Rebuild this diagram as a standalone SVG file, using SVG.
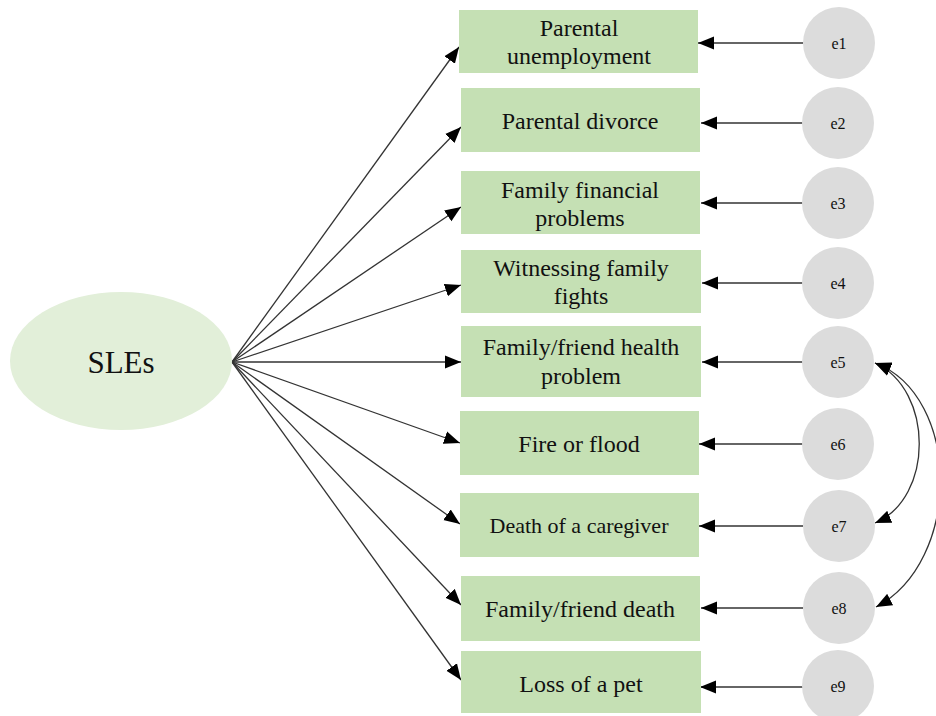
<svg xmlns="http://www.w3.org/2000/svg" width="936" height="716" viewBox="0 0 936 716">
<defs>
<marker id="ah" markerUnits="userSpaceOnUse" markerWidth="17" markerHeight="14" refX="16" refY="6.5" orient="auto-start-reverse" viewBox="0 0 17 13">
<path d="M0,0 L16,6.5 L0,13 Z" fill="#000"/>
</marker>
</defs>
<style>
.box{fill:#c5e0b4}
.err{fill:#dcdcdc}
.lat{fill:#e2efd9}
.t{font-family:"Liberation Serif","Times New Roman",serif;font-size:24px;fill:#111;text-anchor:middle}
.s{font-family:"Liberation Serif","Times New Roman",serif;font-size:16px;fill:#111;text-anchor:middle}
.c{fill:none;stroke:#333;stroke-width:1.3;marker-end:url(#ah)}
.d{fill:none;stroke:#333;stroke-width:1.3;marker-end:url(#ah);marker-start:url(#ah)}
</style>
<rect width="936" height="716" fill="#fff"/>
<g id="connectors">
<line class="c" x1="232" y1="362" x2="459" y2="47"/>
<line class="c" x1="232" y1="362" x2="461" y2="127"/>
<line class="c" x1="232" y1="362" x2="461" y2="207"/>
<line class="c" x1="232" y1="362" x2="461" y2="285"/>
<line class="c" x1="232" y1="362" x2="461" y2="362"/>
<line class="c" x1="232" y1="362" x2="460" y2="443"/>
<line class="c" x1="232" y1="362" x2="460" y2="524"/>
<line class="c" x1="232" y1="362" x2="461" y2="605"/>
<line class="c" x1="232" y1="362" x2="461" y2="680"/>
<line class="c" x1="803" y1="43" x2="698" y2="43"/>
<line class="c" x1="803" y1="123" x2="701" y2="123"/>
<line class="c" x1="803" y1="203" x2="701" y2="203"/>
<line class="c" x1="803" y1="283" x2="702" y2="283"/>
<line class="c" x1="803" y1="362" x2="702" y2="362"/>
<line class="c" x1="803" y1="444" x2="699" y2="444"/>
<line class="c" x1="803" y1="526" x2="699" y2="526"/>
<line class="c" x1="803" y1="608" x2="701" y2="608"/>
<line class="c" x1="803" y1="687" x2="700" y2="687"/>
<path class="d" d="M875,363 C934,390 934,498 875,523"/>
<path class="d" d="M875,363 C962,396 962,562 876,607"/>
</g>
<g id="SLEs">
<ellipse class="lat" cx="121" cy="361" rx="111" ry="69"/>
<text x="121" y="373" class="t" style="font-size:31px">SLEs</text>
</g>
<g id="n1"><rect class="box" x="459" y="10" width="239" height="63"/><text class="t" x="579" y="36">Parental</text><text class="t" x="579" y="64">unemployment</text></g>
<g id="n2"><rect class="box" x="461" y="88" width="239" height="64"/><text class="t" x="580" y="129">Parental divorce</text></g>
<g id="n3"><rect class="box" x="461" y="171" width="239" height="63"/><text class="t" x="580" y="198">Family financial</text><text class="t" x="580" y="226">problems</text></g>
<g id="n4"><rect class="box" x="461" y="250" width="240" height="63"/><text class="t" x="581" y="276">Witnessing family</text><text class="t" x="581" y="304">fights</text></g>
<g id="n5"><rect class="box" x="461" y="326" width="240" height="71"/><text class="t" x="581" y="355">Family/friend health</text><text class="t" x="581" y="384">problem</text></g>
<g id="n6"><rect class="box" x="460" y="411" width="239" height="64"/><text class="t" x="579" y="452">Fire or flood</text></g>
<g id="n7"><rect class="box" x="460" y="493" width="239" height="64"/><text class="t" x="579" y="533" style="font-size:22px">Death of a caregiver</text></g>
<g id="n8"><rect class="box" x="461" y="576" width="239" height="65"/><text class="t" x="580" y="617">Family/friend death</text></g>
<g id="n9"><rect class="box" x="461" y="651" width="240" height="62"/><text class="t" x="581" y="692">Loss of a pet</text></g>
<g id="e1"><circle class="err" cx="839" cy="43" r="36"/><text class="s" x="839" y="49">e1</text></g>
<g id="e2"><circle class="err" cx="838" cy="123" r="36"/><text class="s" x="838" y="129">e2</text></g>
<g id="e3"><circle class="err" cx="838" cy="203" r="36"/><text class="s" x="838" y="209">e3</text></g>
<g id="e4"><circle class="err" cx="838" cy="283" r="36"/><text class="s" x="838" y="289">e4</text></g>
<g id="e5"><circle class="err" cx="838" cy="362" r="36"/><text class="s" x="838" y="368">e5</text></g>
<g id="e6"><circle class="err" cx="838" cy="444" r="36"/><text class="s" x="838" y="450">e6</text></g>
<g id="e7"><circle class="err" cx="839" cy="526" r="36"/><text class="s" x="839" y="532">e7</text></g>
<g id="e8"><circle class="err" cx="839" cy="608" r="36"/><text class="s" x="839" y="614">e8</text></g>
<g id="e9"><circle class="err" cx="838" cy="686" r="36"/><text class="s" x="838" y="692">e9</text></g>
</svg>
